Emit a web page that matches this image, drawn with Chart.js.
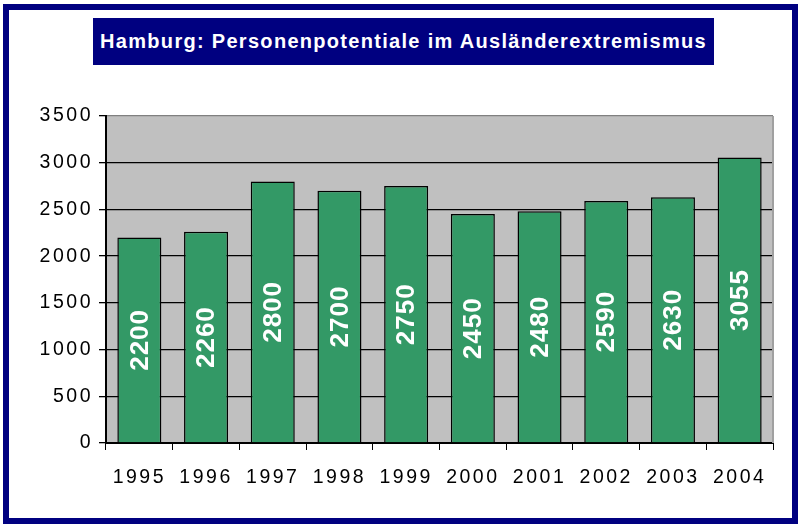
<!DOCTYPE html>
<html>
<head>
<meta charset="utf-8">
<script src="https://cdn.jsdelivr.net/npm/chart.js@4"></script>
<style>
body{margin:0;background:#fff;}
#wrap{position:relative;width:799px;height:526px;overflow:hidden;}
#frame{position:absolute;left:3px;top:4px;width:795px;height:520px;border:6px solid #000080;box-sizing:border-box;}
#title{position:absolute;left:93px;top:18px;width:621px;height:47px;background:#000080;color:#fff;
  font:bold 20px "Liberation Sans",Arial,sans-serif;letter-spacing:1.3px;line-height:47px;text-align:center;white-space:nowrap;}
canvas{position:absolute;left:0;top:0;}
</style>
</head>
<body>
<div id="wrap">
  <div id="frame"></div>
  <div id="title">Hamburg: Personenpotentiale im Ausländerextremismus</div>
  <canvas id="chart" width="799" height="526"></canvas>
</div>
<script>
let years = ["1995","1996","1997","1998","1999","2000","2001","2002","2003","2004"];
let persons = [2200,2260,2800,2700,2750,2450,2480,2590,2630,3055];
let yMax = 3500;
let yStep = 500;

/* Plot background + value labels */
let plotPlugin = {
    id:"plotPlugin",
    beforeDraw(chart){
        let a = chart.chartArea, ctx = chart.ctx;
        ctx.save();
        ctx.fillStyle = "#c0c0c0";
        ctx.fillRect(a.left, a.top, a.right-a.left, a.bottom-a.top);
        ctx.restore();
        ctx.letterSpacing = "2.5px";
    },
    beforeDatasetsDraw(chart){
        let a = chart.chartArea, ctx = chart.ctx;
        ctx.save();
        ctx.strokeStyle = "#a0a0a0";
        ctx.lineWidth = 2;
        ctx.beginPath();
        ctx.moveTo(a.right, a.top);
        ctx.lineTo(a.right, a.bottom);
        ctx.stroke();
        ctx.restore();
    },
    afterDatasetsDraw(chart){
        let ctx = chart.ctx;
        let meta = chart.getDatasetMeta(0);
        ctx.save();
        ctx.letterSpacing = "1px";
        ctx.fillStyle = "#fff";
        ctx.font = "bold 26px 'Liberation Sans', Arial, sans-serif";
        ctx.textAlign = "center";
        ctx.textBaseline = "middle";
        meta.data.forEach((bar,i)=>{
            ctx.save();
            ctx.translate(bar.x+1, (bar.y+bar.base)/2);
            ctx.rotate(-Math.PI/2);
            ctx.fillText(String(persons[i]), 0, 0);
            ctx.restore();
        });
        ctx.restore();
    }
};

new Chart(document.getElementById("chart"),{
    type:"bar",
    data:{
        labels:years,
        datasets:[{
            data:persons,
            backgroundColor:"#339966",
            borderColor:"#000",
            borderWidth:1.5,
            barPercentage:0.66,
            categoryPercentage:1
        }]
    },
    options:{
        responsive:false,
        animation:false,
        layout:{padding:{left:0,top:116,right:26,bottom:0}},
        plugins:{legend:{display:false},title:{display:false},tooltip:{enabled:false}},
        scales:{
            x:{
                afterFit(s){ s.height = 83; },
                grid:{drawOnChartArea:false,tickLength:7,tickColor:"#000",offset:true},
                border:{display:true,color:"#000",width:2},
                ticks:{color:"#000",padding:16,font:{family:"'Liberation Sans', Arial, sans-serif",size:19.5}}
            },
            y:{
                min:0,max:yMax,
                afterFit(s){ s.width = 106; },
                grid:{
                    color:c=>c.tick && c.tick.value===yMax ? "#808080" : "#000",
                    lineWidth:1.3,
                    tickLength:7,
                    tickColor:"#000"
                },
                border:{display:true,color:"#000",width:2},
                ticks:{stepSize:yStep,color:"#000",padding:6,callback:v=>String(v),
                       font:{family:"'Liberation Sans', Arial, sans-serif",size:19.5}}
            }
        }
    },
    plugins:[plotPlugin]
});
</script>
</body>
</html>
